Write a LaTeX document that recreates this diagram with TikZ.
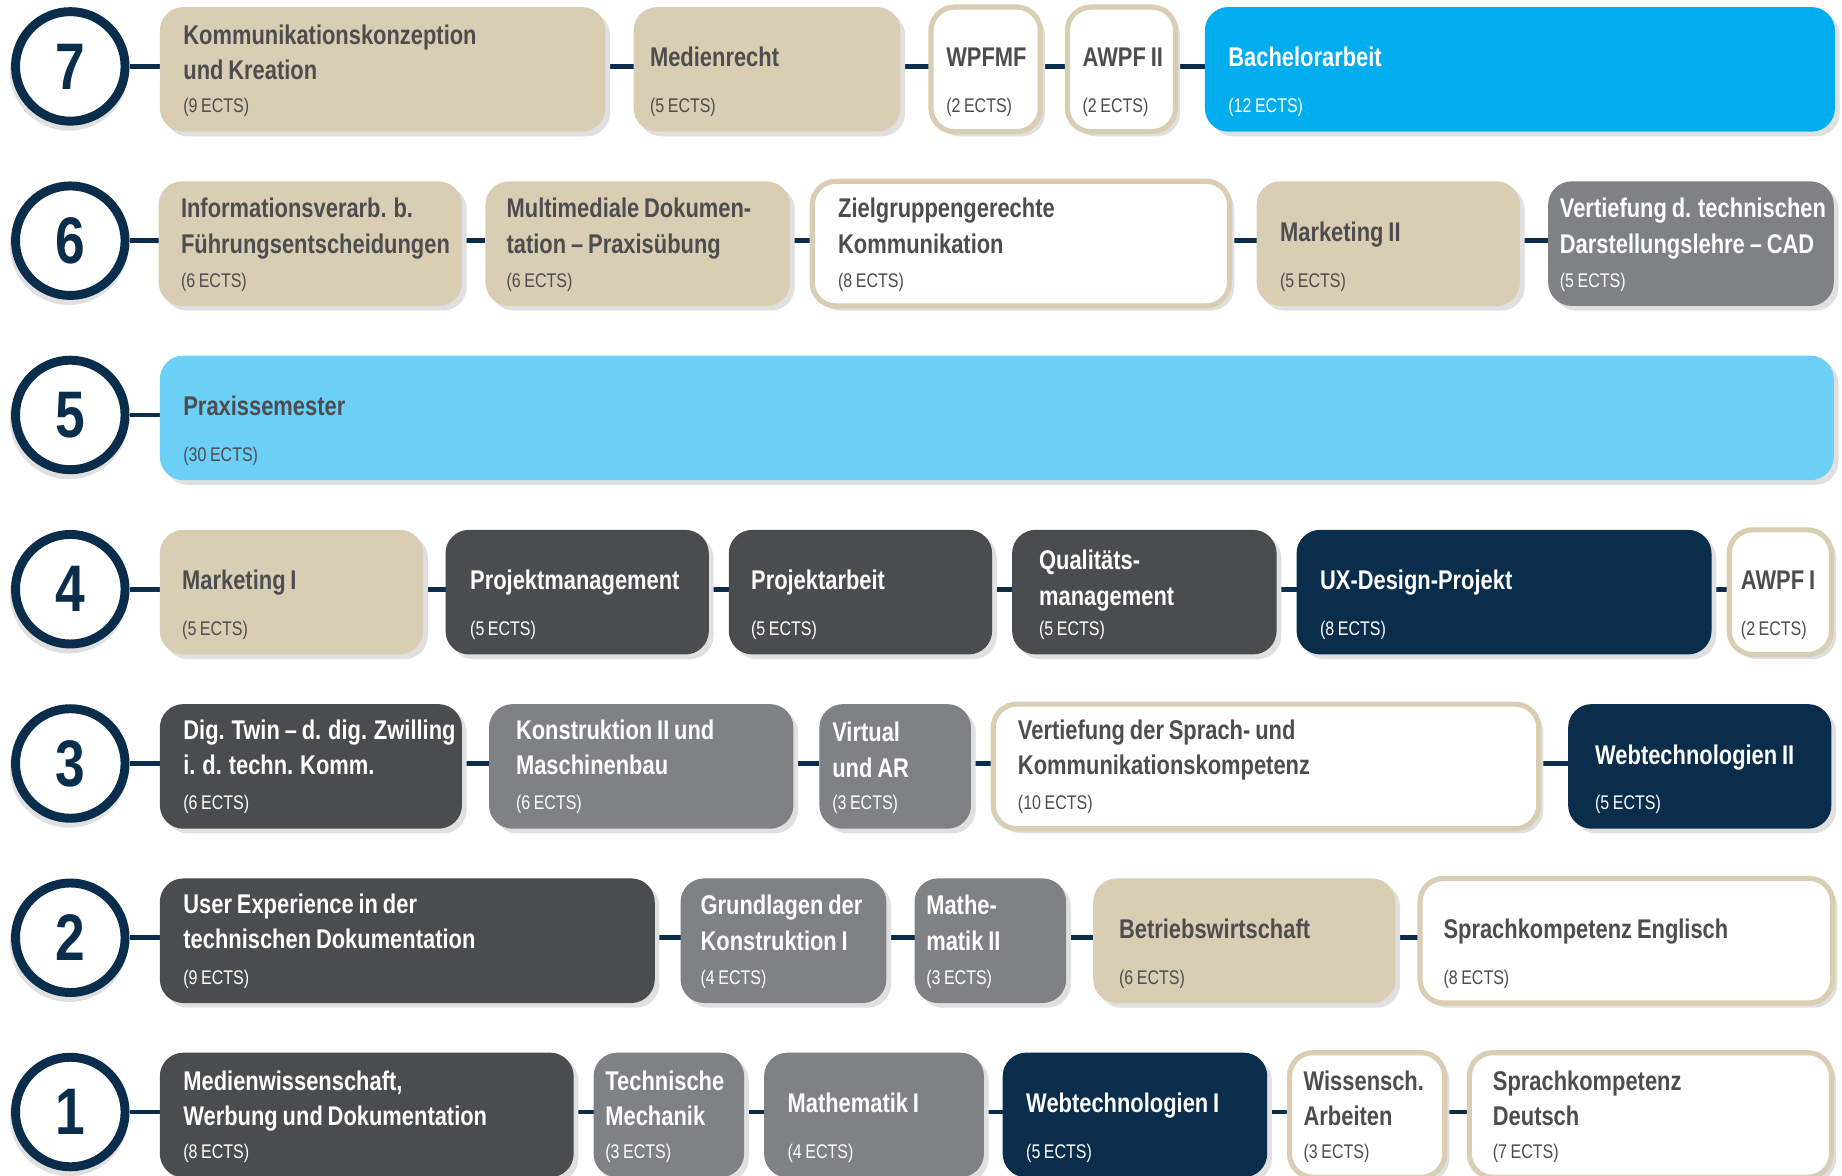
\documentclass[tikz,border=0pt]{standalone}
\usepackage{fontspec}
\setmainfont{Liberation Sans}[FakeStretch=0.81,WordSpace=0.8]
\usetikzlibrary{calc,shadows,backgrounds}

\definecolor{navy}{HTML}{0B2D4C}
\definecolor{tan}{HTML}{D9CEB3}
\definecolor{darkgrey}{HTML}{4B4C4E}
\definecolor{midgrey}{HTML}{808184}
\definecolor{sky}{HTML}{6BCFF6}
\definecolor{brightblue}{HTML}{00AEEF}
\definecolor{txtgrey}{HTML}{4D4D4F}

%% text colour that goes with each box style
\colorlet{tanboxfg}{txtgrey}
\colorlet{openboxfg}{txtgrey}
\colorlet{skyboxfg}{txtgrey}
\colorlet{darkboxfg}{white}
\colorlet{greyboxfg}{white}
\colorlet{navyboxfg}{white}
\colorlet{blueboxfg}{white}

\tikzset{
  course/.style={rectangle, rounded corners=10pt, minimum height=53pt,
    inner sep=0pt, outer sep=0pt,
    general shadow={shadow xshift=2pt, shadow yshift=-2pt, fill=black!12}},
  tanbox/.style={course, fill=tan},
  openbox/.style={course, fill=white, draw=tan, line width=2.2pt},
  skybox/.style={course, fill=sky},
  darkbox/.style={course, fill=darkgrey},
  greybox/.style={course, fill=midgrey},
  navybox/.style={course, fill=navy},
  bluebox/.style={course, fill=brightblue},
  sem/.style={circle, draw=navy, fill=white, line width=3.8pt,
    minimum size=46.6pt, inner sep=0pt, text=navy,
    font=\bfseries\fontsize{28}{28}\selectfont,
    general shadow={shadow scale=1.08, shadow xshift=-0.5pt,
      shadow yshift=-2pt, fill=black!12}},
  title/.style={inner sep=0pt, outer sep=0pt, align=left,
    font=\bfseries\fontsize{11.5}{15}\selectfont},
  ects/.style={inner sep=0pt, outer sep=0pt, font=\fontsize{8.4}{10}\selectfont},
  link/.style={draw=navy, line width=2pt}
}

\begin{document}
\begin{tikzpicture}[x=0.5pt,y=-0.5pt]
  \useasboundingbox (0,0) rectangle (1567,1000);
  \clip (0,0) rectangle (1567,1000);

  %% Semester circles
  \foreach \r in {1,...,7}
  {
    \pgfmathsetmacro\T{6+148.25*(7-\r)}
    \node[sem] (C\r) at (59.8,\T+50.5) {\r};
  }

  %% Modules: row/index/left/right/style/inset/last baseline/title/ECTS
  \foreach \r/\n/\xa/\xb/\sty/\in/\ty/\txt/\ects in {
    7/1/136/515/tanbox/20/62/{Kommunikationskonzeption\\und Kreation}/9,
    7/2/539/766/tanbox/14/51/{Medienrecht}/5,
    7/3/792/885/openbox/13/51/{WPFMF}/2,
    7/4/908/1000/openbox/13/51/{AWPF II}/2,
    7/5/1025/1561/bluebox/20/51/{Bachelorarbeit}/12,
    6/1/135/393/tanbox/19/61/{Informationsverarb. b.\\Führungsentscheidungen}/6,
    6/2/413/672/tanbox/18/61/{Multimediale Dokumen-\\tation – Praxisübung}/6,
    6/3/691/1046/openbox/22/61/{Zielgruppengerechte\\Kommunikation}/8,
    6/4/1069/1293/tanbox/20/51/{Marketing II}/5,
    6/5/1317/1560/greybox/10/61/{Vertiefung d. technischen\\Darstellungslehre – CAD}/5,
    5/1/136/1560/skybox/20/51/{Praxissemester}/30,
    4/1/136/360/tanbox/19/51/{Marketing I}/5,
    4/2/379/603/darkbox/21/51/{Projektmanagement}/5,
    4/3/620/844/darkbox/19/51/{Projektarbeit}/5,
    4/4/861/1086/darkbox/23/64/{Qualitäts-\\management}/5,
    4/5/1103/1456/navybox/20/51/{UX-Design-Projekt}/8,
    4/6/1471/1558/openbox/10/51/{AWPF I}/2,
    3/1/136/393/darkbox/20/60/{Dig. Twin – d. dig. Zwilling\\i. d. techn. Komm.}/6,
    3/2/416/675/greybox/23/60/{Konstruktion II und\\Maschinenbau}/6,
    3/3/697/826/greybox/11/62/{Virtual\\und AR}/3,
    3/4/845/1309/openbox/21/60/{Vertiefung der Sprach- und\\Kommunikationskompetenz}/10,
    3/5/1334/1558/navybox/23/51/{Webtechnologien II}/5,
    2/1/136/557/darkbox/20/60/{User Experience in der\\technischen Dokumentation}/9,
    2/2/579/754/greybox/17/61/{Grundlagen der\\Konstruktion I}/4,
    2/3/778/907/greybox/10/61/{Mathe-\\matik II}/3,
    2/4/930/1187/tanbox/22/51/{Betriebswirtschaft}/6,
    2/5/1208/1559/openbox/20/51/{Sprachkompetenz Englisch}/8,
    1/1/136/488/darkbox/20/62/{Medienwissenschaft,\\Werbung und Dokumentation}/8,
    1/2/505/633/greybox/10/62/{Technische\\Mechanik}/3,
    1/3/650/837/greybox/20/51/{Mathematik I}/4,
    1/4/853/1078/navybox/20/51/{Webtechnologien I}/5,
    1/5/1097/1229/openbox/12/62/{Wissensch.\\Arbeiten}/3,
    1/6/1250/1558/openbox/20/62/{Sprachkompetenz\\Deutsch}/7}
  {
    \pgfmathsetmacro\T{6+148.25*(7-\r)}
    \node[\sty, minimum width={(\xb-\xa)*0.5pt}] (B\r-\n) at ({(\xa+\xb)/2},\T+53) {};
    \node[title, text=\sty fg, anchor=base west] (T\r-\n) at ($(B\r-\n.north west)+(\in,\ty)$) {\txt};
    \node[ects, text=\sty fg, anchor=base west] (E\r-\n) at ($(B\r-\n.north west)+(\in,90)$) {(\ects{} ECTS)};
    \pgfmathtruncatemacro\p{\n-1}
    \begin{scope}[on background layer]
      \ifnum\n=1
        \draw[link] (C\r.east) -- (B\r-\n.west |- C\r);
      \else
        \draw[link] (B\r-\p.east |- C\r) -- (B\r-\n.west |- C\r);
      \fi
    \end{scope}
  }

\end{tikzpicture}
\end{document}
